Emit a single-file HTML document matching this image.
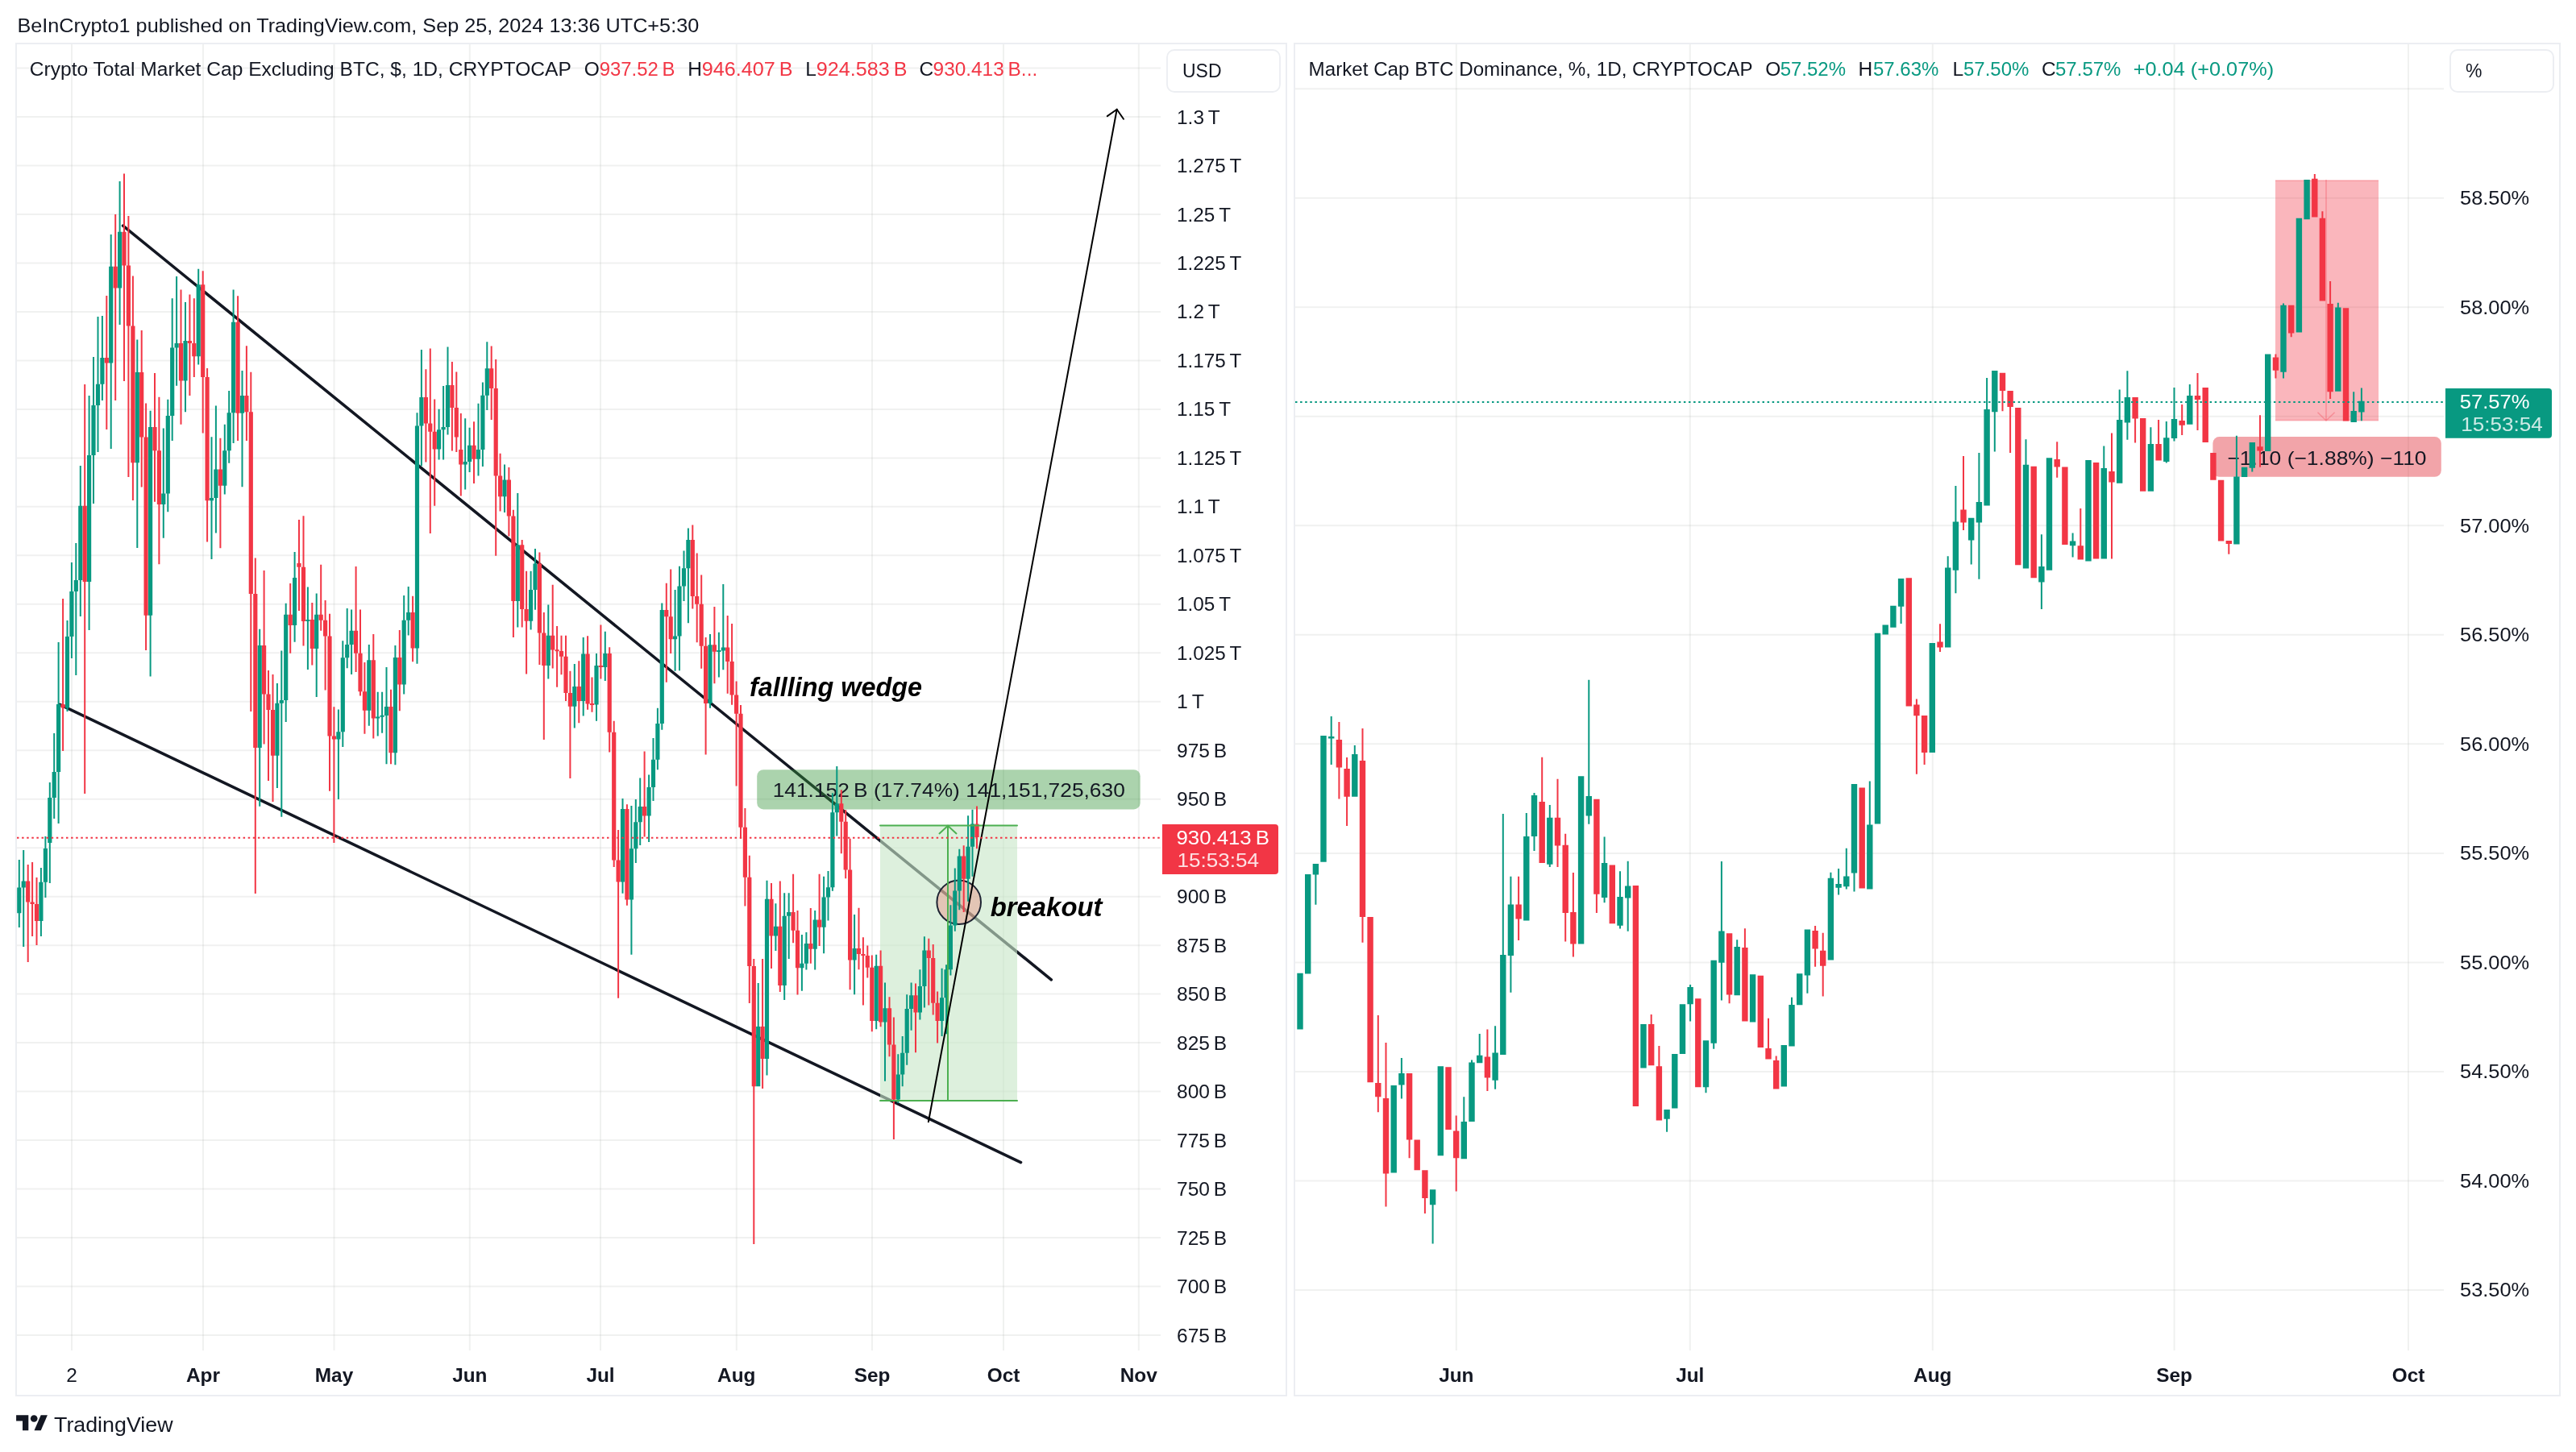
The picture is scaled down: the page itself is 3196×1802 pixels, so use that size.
<!DOCTYPE html><html><head><meta charset="utf-8"><style>html,body{margin:0;padding:0;background:#fff;width:3196px;height:1802px;overflow:hidden}svg{display:block;will-change:transform}text{font-family:"Liberation Sans", sans-serif}</style></head><body>
<svg width="3196" height="1802" viewBox="0 0 3196 1802">
<rect x="0" y="0" width="3196" height="1802" fill="#ffffff"/>
<text x="21.4" y="40.0" font-size="24.5" fill="#131722" textLength="845.8" lengthAdjust="spacingAndGlyphs">BeInCrypto1 published on TradingView.com, Sep 25, 2024 13:36 UTC+5:30</text>
<g stroke="rgb(178,184,182)" stroke-opacity="0.2" stroke-width="2" fill="none">
<line x1="89" y1="55" x2="89" y2="1676"/>
<line x1="252" y1="55" x2="252" y2="1676"/>
<line x1="414.5" y1="55" x2="414.5" y2="1676"/>
<line x1="582.8" y1="55" x2="582.8" y2="1676"/>
<line x1="745" y1="55" x2="745" y2="1676"/>
<line x1="913.8" y1="55" x2="913.8" y2="1676"/>
<line x1="1082" y1="55" x2="1082" y2="1676"/>
<line x1="1245" y1="55" x2="1245" y2="1676"/>
<line x1="1412.8" y1="55" x2="1412.8" y2="1676"/>
<line x1="21" y1="84.5" x2="1440" y2="84.5"/>
<line x1="21" y1="145.0" x2="1440" y2="145.0"/>
<line x1="21" y1="205.5" x2="1440" y2="205.5"/>
<line x1="21" y1="266.0" x2="1440" y2="266.0"/>
<line x1="21" y1="326.4" x2="1440" y2="326.4"/>
<line x1="21" y1="386.9" x2="1440" y2="386.9"/>
<line x1="21" y1="447.4" x2="1440" y2="447.4"/>
<line x1="21" y1="507.9" x2="1440" y2="507.9"/>
<line x1="21" y1="568.4" x2="1440" y2="568.4"/>
<line x1="21" y1="628.8" x2="1440" y2="628.8"/>
<line x1="21" y1="689.3" x2="1440" y2="689.3"/>
<line x1="21" y1="749.8" x2="1440" y2="749.8"/>
<line x1="21" y1="810.3" x2="1440" y2="810.3"/>
<line x1="21" y1="870.8" x2="1440" y2="870.8"/>
<line x1="21" y1="931.2" x2="1440" y2="931.2"/>
<line x1="21" y1="991.7" x2="1440" y2="991.7"/>
<line x1="21" y1="1052.2" x2="1440" y2="1052.2"/>
<line x1="21" y1="1112.7" x2="1440" y2="1112.7"/>
<line x1="21" y1="1173.2" x2="1440" y2="1173.2"/>
<line x1="21" y1="1233.6" x2="1440" y2="1233.6"/>
<line x1="21" y1="1294.1" x2="1440" y2="1294.1"/>
<line x1="21" y1="1354.6" x2="1440" y2="1354.6"/>
<line x1="21" y1="1415.1" x2="1440" y2="1415.1"/>
<line x1="21" y1="1475.6" x2="1440" y2="1475.6"/>
<line x1="21" y1="1536.0" x2="1440" y2="1536.0"/>
<line x1="21" y1="1596.5" x2="1440" y2="1596.5"/>
<line x1="21" y1="1657.0" x2="1440" y2="1657.0"/>
<line x1="1806.8" y1="55" x2="1806.8" y2="1676"/>
<line x1="2096.8" y1="55" x2="2096.8" y2="1676"/>
<line x1="2397.8" y1="55" x2="2397.8" y2="1676"/>
<line x1="2697.6" y1="55" x2="2697.6" y2="1676"/>
<line x1="2988" y1="55" x2="2988" y2="1676"/>
<line x1="1607" y1="110.3" x2="3032" y2="110.3"/>
<line x1="1607" y1="245.8" x2="3032" y2="245.8"/>
<line x1="1607" y1="381.3" x2="3032" y2="381.3"/>
<line x1="1607" y1="516.8" x2="3032" y2="516.8"/>
<line x1="1607" y1="652.3" x2="3032" y2="652.3"/>
<line x1="1607" y1="787.8" x2="3032" y2="787.8"/>
<line x1="1607" y1="923.3" x2="3032" y2="923.3"/>
<line x1="1607" y1="1058.9" x2="3032" y2="1058.9"/>
<line x1="1607" y1="1194.4" x2="3032" y2="1194.4"/>
<line x1="1607" y1="1329.9" x2="3032" y2="1329.9"/>
<line x1="1607" y1="1465.4" x2="3032" y2="1465.4"/>
<line x1="1607" y1="1600.9" x2="3032" y2="1600.9"/>
</g>
<g stroke="#131722" stroke-width="3.6" stroke-linecap="round" fill="none">
<line x1="152.6" y1="280.2" x2="1304.3" y2="1215.8"/>
<line x1="74.2" y1="874.4" x2="1266.5" y2="1442.6"/>
</g>
<rect x="1092" y="1024.6" width="170" height="341.3" fill="rgb(200,230,200)" fill-opacity="0.62"/>
<rect x="939.2" y="955.2" width="475.5" height="49.2" rx="8" ry="8" fill="rgb(56,150,60)" fill-opacity="0.42"/>
<circle cx="1189.7" cy="1119.7" r="27.3" fill="rgb(242,100,90)" fill-opacity="0.3" stroke="#1e2433" stroke-width="2"/>
<rect x="2823" y="224" width="128" height="297.6" fill="rgb(242,54,69)" fill-opacity="0.36"/>
<g stroke="rgb(242,54,69)" stroke-opacity="0.3" stroke-width="1.6" fill="none"><line x1="2823" y1="224" x2="2951" y2="224"/><line x1="2823" y1="521.6" x2="2951" y2="521.6"/><line x1="2886" y1="223" x2="2886" y2="521.6"/><polyline points="2875.5,511.7 2886,522 2896.6,511.7"/></g>
<rect x="2745.4" y="542.1" width="283.4" height="49.7" rx="8" ry="8" fill="rgb(228,62,72)" fill-opacity="0.47"/>
<text x="958.7" y="989.0" font-size="24.5" fill="#131722" textLength="437.1" lengthAdjust="spacingAndGlyphs">141.152 B (17.74%) 141,151,725,630</text>
<text x="2763.4" y="576.5" font-size="24.5" fill="#131722" textLength="247.2" lengthAdjust="spacingAndGlyphs">−1.10 (−1.88%) −110</text>
<path fill="#089981" d="M22.8 1067.0h2V1151.0h-2ZM21.2 1101.6h5.2V1133.3h-5.2ZM28.2 1055.0h2V1175.0h-2ZM26.6 1093.4h5.2V1101.6h-5.2ZM49.9 1077.0h2V1162.0h-2ZM48.3 1094.8h5.2V1143.0h-5.2ZM55.4 1038.0h2V1114.0h-2ZM53.8 1053.0h5.2V1094.8h-5.2ZM60.8 971.0h2V1096.0h-2ZM59.2 990.0h5.2V1046.0h-5.2ZM66.2 910.0h2V1016.0h-2ZM64.6 958.0h5.2V990.0h-5.2ZM71.6 797.0h2V1022.0h-2ZM70.0 874.0h5.2V958.0h-5.2ZM82.5 770.0h2V883.0h-2ZM80.9 790.0h5.2V878.5h-5.2ZM87.9 698.0h2V817.0h-2ZM86.3 734.0h5.2V790.0h-5.2ZM93.3 674.0h2V838.0h-2ZM91.7 720.0h5.2V734.0h-5.2ZM98.8 578.0h2V765.0h-2ZM97.2 627.7h5.2V720.0h-5.2ZM109.6 491.0h2V782.0h-2ZM108.0 565.0h5.2V722.0h-5.2ZM115.0 443.0h2V625.0h-2ZM113.4 503.0h5.2V565.0h-5.2ZM120.5 393.0h2V561.0h-2ZM118.9 476.7h5.2V503.0h-5.2ZM125.9 392.0h2V497.0h-2ZM124.3 443.9h5.2V476.7h-5.2ZM136.7 291.0h2V557.0h-2ZM135.1 330.8h5.2V450.4h-5.2ZM147.6 225.0h2V403.0h-2ZM146.0 287.7h5.2V357.4h-5.2ZM169.3 421.6h2V680.0h-2ZM167.7 461.9h5.2V574.3h-5.2ZM185.6 509.7h2V839.6h-2ZM184.0 529.9h5.2V763.8h-5.2ZM201.8 531.4h2V667.8h-2ZM200.2 612.6h5.2V626.0h-5.2ZM207.3 495.8h2V635.2h-2ZM205.7 516.0h5.2V612.6h-5.2ZM212.7 370.3h2V547.0h-2ZM211.1 431.6h5.2V516.0h-5.2ZM218.1 343.0h2V478.7h-2ZM216.5 426.0h5.2V431.6h-5.2ZM229.0 375.0h2V511.3h-2ZM227.4 423.0h5.2V472.5h-5.2ZM245.2 333.7h2V452.4h-2ZM243.6 353.2h5.2V442.2h-5.2ZM261.5 542.3h2V694.1h-2ZM259.9 618.0h5.2V621.3h-5.2ZM266.9 503.5h2V661.6h-2ZM265.3 582.6h5.2V618.0h-5.2ZM277.8 526.8h2V613.5h-2ZM276.2 559.3h5.2V602.7h-5.2ZM283.2 485.0h2V574.8h-2ZM281.6 512.2h5.2V559.3h-5.2ZM288.6 359.4h2V550.0h-2ZM287.0 399.7h5.2V512.2h-5.2ZM299.5 460.0h2V604.2h-2ZM297.9 491.0h5.2V512.8h-5.2ZM321.2 780.7h2V1000.7h-2ZM319.6 801.0h5.2V928.0h-5.2ZM342.9 848.0h2V978.0h-2ZM341.3 872.7h5.2V937.8h-5.2ZM348.3 807.6h2V1013.7h-2ZM346.7 869.0h5.2V872.7h-5.2ZM353.7 748.7h2V896.0h-2ZM352.1 762.7h5.2V869.0h-5.2ZM364.6 685.0h2V796.8h-2ZM363.0 717.0h5.2V776.0h-5.2ZM380.9 728.6h2V831.0h-2ZM379.3 769.0h5.2V771.0h-5.2ZM391.7 736.4h2V865.0h-2ZM390.1 762.7h5.2V805.0h-5.2ZM418.9 880.4h2V992.0h-2ZM417.3 908.3h5.2V917.6h-5.2ZM424.3 795.2h2V927.0h-2ZM422.7 816.3h5.2V908.3h-5.2ZM429.7 755.0h2V829.3h-2ZM428.1 800.0h5.2V816.3h-5.2ZM435.1 756.5h2V837.0h-2ZM433.5 782.8h5.2V800.0h-5.2ZM456.8 800.0h2V900.7h-2ZM455.2 819.2h5.2V881.8h-5.2ZM467.7 858.7h2V913.6h-2ZM466.1 889.5h5.2V891.5h-5.2ZM473.1 858.7h2V909.8h-2ZM471.5 887.8h5.2V889.8h-5.2ZM478.5 828.0h2V948.3h-2ZM476.9 877.0h5.2V888.0h-5.2ZM489.4 801.0h2V949.3h-2ZM487.8 816.0h5.2V934.3h-5.2ZM500.2 738.9h2V861.6h-2ZM498.6 769.7h5.2V849.5h-5.2ZM505.7 728.0h2V788.4h-2ZM504.1 760.0h5.2V769.7h-5.2ZM516.5 512.2h2V823.7h-2ZM514.9 528.6h5.2V804.4h-5.2ZM521.9 434.0h2V578.2h-2ZM520.3 493.0h5.2V528.6h-5.2ZM543.6 507.8h2V570.4h-2ZM542.0 533.2h5.2V557.4h-5.2ZM549.1 479.0h2V570.4h-2ZM547.5 530.0h5.2V533.2h-5.2ZM554.5 430.4h2V539.5h-2ZM552.9 478.0h5.2V530.0h-5.2ZM576.2 519.3h2V607.6h-2ZM574.6 573.0h5.2V576.6h-5.2ZM581.6 530.8h2V586.0h-2ZM580.0 552.8h5.2V573.0h-5.2ZM592.5 500.7h2V590.6h-2ZM590.9 558.0h5.2V569.8h-5.2ZM597.9 474.4h2V579.0h-2ZM596.3 490.8h5.2V558.0h-5.2ZM603.3 424.2h2V509.0h-2ZM601.7 457.3h5.2V490.8h-5.2ZM625.0 576.6h2V636.0h-2ZM623.4 595.6h5.2V616.3h-5.2ZM641.3 612.0h2V778.5h-2ZM639.7 676.2h5.2V746.0h-5.2ZM657.6 708.7h2V781.6h-2ZM656.0 732.0h5.2V770.7h-5.2ZM663.0 680.9h2V756.8h-2ZM661.4 699.4h5.2V732.0h-5.2ZM679.3 750.6h2V842.6h-2ZM677.7 788.7h5.2V825.9h-5.2ZM711.8 824.0h2V903.4h-2ZM710.2 851.9h5.2V876.7h-5.2ZM722.7 790.9h2V888.5h-2ZM721.1 811.6h5.2V869.9h-5.2ZM739.0 811.0h2V894.7h-2ZM737.4 825.9h5.2V874.5h-5.2ZM749.8 783.7h2V845.0h-2ZM748.2 811.0h5.2V828.0h-5.2ZM771.5 991.0h2V1108.7h-2ZM769.9 1004.0h5.2V1094.6h-5.2ZM782.4 1000.0h2V1184.7h-2ZM780.8 1053.3h5.2V1116.6h-5.2ZM787.8 992.0h2V1071.0h-2ZM786.2 1020.2h5.2V1053.3h-5.2ZM793.2 965.5h2V1048.9h-2ZM791.6 1001.0h5.2V1020.2h-5.2ZM804.1 961.4h2V1045.0h-2ZM802.5 976.9h5.2V1012.5h-5.2ZM809.5 915.9h2V994.0h-2ZM807.9 942.8h5.2V976.9h-5.2ZM814.9 878.7h2V955.2h-2ZM813.3 897.9h5.2V942.8h-5.2ZM820.3 748.5h2V905.7h-2ZM818.7 756.9h5.2V897.9h-5.2ZM836.6 732.1h2V832.8h-2ZM835.0 789.4h5.2V793.2h-5.2ZM842.0 702.7h2V832.2h-2ZM840.4 727.5h5.2V789.4h-5.2ZM847.5 683.5h2V746.0h-2ZM845.9 705.2h5.2V727.5h-5.2ZM852.9 655.6h2V773.3h-2ZM851.3 670.1h5.2V705.2h-5.2ZM880.0 787.0h2V878.7h-2ZM878.4 800.3h5.2V873.1h-5.2ZM890.9 784.8h2V840.6h-2ZM889.3 807.0h5.2V809.0h-5.2ZM896.3 725.0h2V831.3h-2ZM894.7 803.4h5.2V807.4h-5.2ZM939.7 1220.0h2V1348.3h-2ZM938.1 1274.0h5.2V1348.3h-5.2ZM950.5 1092.8h2V1334.6h-2ZM948.9 1115.7h5.2V1314.0h-5.2ZM961.4 1121.3h2V1180.0h-2ZM959.8 1149.8h5.2V1161.6h-5.2ZM972.2 1108.3h2V1241.0h-2ZM970.6 1136.8h5.2V1223.0h-5.2ZM977.7 1108.3h2V1190.0h-2ZM976.1 1132.0h5.2V1136.8h-5.2ZM993.9 1160.0h2V1229.8h-2ZM992.3 1195.7h5.2V1201.2h-5.2ZM999.4 1157.0h2V1203.4h-2ZM997.8 1170.9h5.2V1195.7h-5.2ZM1010.2 1130.0h2V1203.4h-2ZM1008.6 1141.4h5.2V1177.7h-5.2ZM1021.1 1087.8h2V1183.3h-2ZM1019.5 1113.5h5.2V1150.7h-5.2ZM1026.5 1081.0h2V1142.4h-2ZM1024.9 1101.2h5.2V1113.5h-5.2ZM1031.9 984.3h2V1105.8h-2ZM1030.3 1008.2h5.2V1101.2h-5.2ZM1037.3 950.9h2V1037.6h-2ZM1035.7 997.3h5.2V1008.2h-5.2ZM1059.1 1135.0h2V1234.3h-2ZM1057.5 1177.0h5.2V1191.4h-5.2ZM1086.2 1184.8h2V1277.2h-2ZM1084.6 1198.8h5.2V1266.9h-5.2ZM1097.0 1219.5h2V1341.8h-2ZM1095.4 1251.2h5.2V1268.4h-5.2ZM1113.3 1308.3h2V1369.0h-2ZM1111.7 1333.5h5.2V1364.6h-5.2ZM1118.7 1286.1h2V1348.3h-2ZM1117.1 1306.8h5.2V1333.5h-5.2ZM1124.2 1234.3h2V1321.7h-2ZM1122.6 1252.0h5.2V1306.8h-5.2ZM1129.6 1219.5h2V1278.7h-2ZM1128.0 1235.2h5.2V1252.0h-5.2ZM1140.4 1203.2h2V1265.4h-2ZM1138.8 1224.0h5.2V1256.5h-5.2ZM1145.9 1162.3h2V1250.6h-2ZM1144.3 1179.5h5.2V1224.0h-5.2ZM1167.6 1201.7h2V1286.1h-2ZM1166.0 1238.2h5.2V1266.9h-5.2ZM1173.0 1197.3h2V1283.2h-2ZM1171.4 1203.2h5.2V1238.2h-5.2ZM1178.4 1123.3h2V1210.6h-2ZM1176.8 1148.4h5.2V1203.2h-5.2ZM1183.8 1077.4h2V1155.8h-2ZM1182.2 1105.5h5.2V1148.4h-5.2ZM1189.3 1053.7h2V1129.2h-2ZM1187.7 1062.5h5.2V1105.5h-5.2ZM1200.1 1012.2h2V1118.8h-2ZM1198.5 1050.7h5.2V1090.7h-5.2ZM1205.5 1004.8h2V1087.7h-2ZM1203.9 1022.6h5.2V1050.7h-5.2ZM1609.3 1207.7h7.4V1277.4h-7.4ZM1619.0 1085.0h7.4V1208.6h-7.4ZM1631.4 1072.0h2V1122.7h-2ZM1628.7 1072.0h7.4V1085.6h-7.4ZM1638.3 913.0h7.4V1069.7h-7.4ZM1650.7 889.0h2V949.0h-2ZM1648.0 914.0h7.4V916.5h-7.4ZM1679.8 925.0h2V988.7h-2ZM1677.1 936.0h7.4V988.7h-7.4ZM1725.5 1347.0h7.4V1455.4h-7.4ZM1737.9 1313.0h2V1363.5h-2ZM1735.2 1332.0h7.4V1346.4h-7.4ZM1776.6 1476.3h2V1543.5h-2ZM1773.9 1476.3h7.4V1495.3h-7.4ZM1783.6 1323.3h7.4V1434.2h-7.4ZM1815.3 1361.3h2V1438.3h-2ZM1812.6 1392.0h7.4V1438.3h-7.4ZM1825.0 1315.4h2V1392.0h-2ZM1822.3 1318.6h7.4V1392.0h-7.4ZM1834.7 1283.1h2V1319.2h-2ZM1832.0 1309.7h7.4V1319.2h-7.4ZM1854.1 1273.3h2V1351.8h-2ZM1851.4 1306.5h7.4V1340.7h-7.4ZM1863.8 1010.0h2V1309.0h-2ZM1861.1 1184.9h7.4V1309.0h-7.4ZM1873.4 1087.7h2V1231.8h-2ZM1870.7 1122.5h7.4V1185.9h-7.4ZM1892.8 1009.1h2V1142.5h-2ZM1890.1 1038.0h7.4V1142.5h-7.4ZM1902.5 984.0h2V1056.0h-2ZM1899.8 987.0h7.4V1038.0h-7.4ZM1921.8 999.0h2V1076.0h-2ZM1919.1 1014.8h7.4V1072.8h-7.4ZM1957.9 963.2h7.4V1171.6h-7.4ZM1970.3 843.8h2V1022.7h-2ZM1967.6 987.9h7.4V1012.6h-7.4ZM1989.6 1038.6h2V1120.3h-2ZM1986.9 1070.9h7.4V1114.0h-7.4ZM2009.0 1081.3h2V1152.6h-2ZM2006.3 1113.0h7.4V1148.8h-7.4ZM2018.7 1068.7h2V1155.8h-2ZM2016.0 1099.4h7.4V1114.6h-7.4ZM2035.3 1271.0h7.4V1325.5h-7.4ZM2067.1 1377.0h2V1404.7h-2ZM2064.4 1377.0h7.4V1388.8h-7.4ZM2074.1 1308.0h7.4V1375.5h-7.4ZM2083.8 1246.3h7.4V1308.0h-7.4ZM2096.1 1222.0h2V1267.5h-2ZM2093.4 1225.0h7.4V1246.3h-7.4ZM2115.5 1291.3h2V1356.2h-2ZM2112.8 1291.3h7.4V1349.2h-7.4ZM2125.2 1191.8h2V1301.7h-2ZM2122.5 1191.8h7.4V1294.8h-7.4ZM2134.9 1069.0h2V1241.5h-2ZM2132.2 1155.4h7.4V1194.7h-7.4ZM2154.2 1166.2h2V1235.2h-2ZM2151.5 1175.0h7.4V1235.2h-7.4ZM2170.9 1209.2h7.4V1268.5h-7.4ZM2209.6 1297.0h7.4V1348.6h-7.4ZM2222.0 1237.7h2V1298.6h-2ZM2219.3 1247.0h7.4V1298.6h-7.4ZM2229.0 1208.3h7.4V1247.2h-7.4ZM2241.4 1153.5h2V1232.7h-2ZM2238.7 1153.5h7.4V1210.5h-7.4ZM2270.4 1082.8h2V1191.5h-2ZM2267.7 1089.8h7.4V1191.5h-7.4ZM2280.1 1078.0h2V1110.6h-2ZM2277.4 1097.0h7.4V1101.8h-7.4ZM2289.8 1052.7h2V1103.4h-2ZM2287.1 1087.5h7.4V1100.2h-7.4ZM2299.5 972.9h2V1106.5h-2ZM2296.8 972.9h7.4V1083.4h-7.4ZM2318.8 969.4h2V1103.4h-2ZM2316.1 1023.5h7.4V1103.4h-7.4ZM2325.8 785.7h7.4V1022.6h-7.4ZM2335.5 775.5h7.4V787.6h-7.4ZM2345.2 751.8h7.4V778.7h-7.4ZM2357.6 717.9h2V774.0h-2ZM2354.9 717.9h7.4V752.7h-7.4ZM2393.6 798.0h7.4V934.0h-7.4ZM2415.7 690.2h2V803.6h-2ZM2413.0 704.5h7.4V803.6h-7.4ZM2425.4 603.1h2V736.2h-2ZM2422.7 647.5h7.4V707.7h-7.4ZM2444.7 642.7h2V700.4h-2ZM2442.0 642.7h7.4V670.6h-7.4ZM2454.4 562.0h2V718.7h-2ZM2451.7 623.0h7.4V648.4h-7.4ZM2464.1 469.1h2V627.5h-2ZM2461.4 508.1h7.4V627.5h-7.4ZM2473.8 460.0h2V560.4h-2ZM2471.1 460.0h7.4V511.3h-7.4ZM2512.5 545.2h2V705.4h-2ZM2509.8 576.8h7.4V705.4h-7.4ZM2531.9 663.3h2V756.1h-2ZM2529.2 702.9h7.4V722.5h-7.4ZM2538.8 568.3h7.4V707.7h-7.4ZM2570.6 661.4h2V691.6h-2ZM2567.9 671.4h7.4V677.2h-7.4ZM2587.3 571.1h7.4V696.5h-7.4ZM2609.3 553.4h2V693.6h-2ZM2606.6 581.1h7.4V693.6h-7.4ZM2628.7 483.4h2V599.7h-2ZM2626.0 521.0h7.4V599.7h-7.4ZM2638.4 460.2h2V545.7h-2ZM2635.7 493.0h7.4V524.5h-7.4ZM2667.4 530.2h2V609.7h-2ZM2664.7 550.9h7.4V609.7h-7.4ZM2686.8 522.9h2V574.6h-2ZM2684.1 543.2h7.4V573.0h-7.4ZM2696.5 480.9h2V547.6h-2ZM2693.8 520.0h7.4V544.1h-7.4ZM2715.8 477.0h2V526.8h-2ZM2713.1 491.1h7.4V526.8h-7.4ZM2773.9 540.7h2V675.6h-2ZM2771.2 591.4h7.4V675.6h-7.4ZM2780.9 579.8h7.4V592.0h-7.4ZM2793.3 549.0h2V585.6h-2ZM2790.6 549.0h7.4V580.8h-7.4ZM2810.0 439.4h7.4V560.0h-7.4ZM2832.0 376.4h2V469.5h-2ZM2829.3 378.7h7.4V461.7h-7.4ZM2848.7 270.8h7.4V412.6h-7.4ZM2858.4 223.1h7.4V272.3h-7.4ZM2899.8 375.8h2V485.7h-2ZM2897.1 381.6h7.4V485.7h-7.4ZM2919.2 486.3h2V523.9h-2ZM2916.5 510.0h7.4V523.9h-7.4ZM2928.9 481.6h2V522.2h-2ZM2926.2 497.8h7.4V511.4h-7.4Z"/><path fill="#f23645" d="M33.7 1073.0h2V1194.0h-2ZM32.1 1093.4h5.2V1119.6h-5.2ZM39.1 1070.0h2V1162.0h-2ZM37.5 1119.6h5.2V1122.0h-5.2ZM44.5 1089.0h2V1173.0h-2ZM42.9 1122.0h5.2V1143.0h-5.2ZM77.1 743.0h2V932.0h-2ZM75.5 874.0h5.2V878.5h-5.2ZM104.2 477.0h2V985.0h-2ZM102.6 627.7h5.2V722.0h-5.2ZM131.3 367.0h2V533.0h-2ZM129.7 443.9h5.2V450.4h-5.2ZM142.2 266.0h2V497.0h-2ZM140.6 330.8h5.2V357.4h-5.2ZM153.0 215.5h2V473.0h-2ZM151.4 287.7h5.2V329.5h-5.2ZM158.4 268.0h2V592.0h-2ZM156.8 329.5h5.2V404.5h-5.2ZM163.9 342.5h2V621.0h-2ZM162.3 404.5h5.2V574.3h-5.2ZM174.7 410.0h2V604.4h-2ZM173.1 461.9h5.2V542.4h-5.2ZM180.1 500.6h2V807.0h-2ZM178.5 542.4h5.2V763.8h-5.2ZM191.0 463.0h2V622.8h-2ZM189.4 529.9h5.2V559.3h-5.2ZM196.4 492.7h2V700.3h-2ZM194.8 559.3h5.2V626.0h-5.2ZM223.5 359.4h2V526.8h-2ZM221.9 426.0h5.2V472.5h-5.2ZM234.4 365.6h2V491.0h-2ZM232.8 423.0h5.2V426.0h-5.2ZM239.8 370.3h2V468.0h-2ZM238.2 426.0h5.2V442.2h-5.2ZM250.7 336.2h2V537.6h-2ZM249.1 353.2h5.2V468.0h-5.2ZM256.1 457.0h2V672.4h-2ZM254.5 468.0h5.2V621.3h-5.2ZM272.4 543.8h2V680.2h-2ZM270.8 582.6h5.2V602.7h-5.2ZM294.1 367.2h2V547.0h-2ZM292.5 399.7h5.2V512.8h-5.2ZM304.9 429.2h2V547.0h-2ZM303.3 491.0h5.2V511.3h-5.2ZM310.3 461.7h2V883.0h-2ZM308.7 511.3h5.2V737.0h-5.2ZM315.8 692.4h2V1109.0h-2ZM314.2 737.0h5.2V928.0h-5.2ZM326.6 708.0h2V923.5h-2ZM325.0 801.0h5.2V861.5h-5.2ZM332.0 832.0h2V969.0h-2ZM330.4 861.5h5.2V881.0h-5.2ZM337.5 837.0h2V995.0h-2ZM335.9 881.0h5.2V937.8h-5.2ZM359.2 724.0h2V810.7h-2ZM357.6 762.7h5.2V776.0h-5.2ZM370.0 645.0h2V758.0h-2ZM368.4 699.0h5.2V703.8h-5.2ZM375.5 640.3h2V801.4h-2ZM373.9 703.8h5.2V771.0h-5.2ZM386.3 748.0h2V825.6h-2ZM384.7 769.0h5.2V805.0h-5.2ZM397.2 700.7h2V782.8h-2ZM395.6 762.7h5.2V769.8h-5.2ZM402.6 745.0h2V856.6h-2ZM401.0 769.8h5.2V789.6h-5.2ZM408.0 761.8h2V981.8h-2ZM406.4 789.6h5.2V913.6h-5.2ZM413.4 877.3h2V1046.0h-2ZM411.8 913.6h5.2V917.6h-5.2ZM440.6 702.9h2V834.0h-2ZM439.0 782.8h5.2V810.7h-5.2ZM446.0 756.6h2V863.5h-2ZM444.4 810.7h5.2V858.3h-5.2ZM451.4 822.0h2V910.8h-2ZM449.8 858.3h5.2V881.8h-5.2ZM462.3 787.0h2V916.5h-2ZM460.7 819.2h5.2V891.5h-5.2ZM484.0 855.8h2V948.3h-2ZM482.4 877.0h5.2V934.3h-5.2ZM494.8 782.0h2V882.2h-2ZM493.2 816.0h5.2V849.5h-5.2ZM511.1 739.7h2V821.2h-2ZM509.5 760.0h5.2V804.4h-5.2ZM527.4 458.3h2V573.5h-2ZM525.8 493.0h5.2V525.5h-5.2ZM532.8 432.5h2V661.9h-2ZM531.2 525.5h5.2V535.7h-5.2ZM538.2 495.4h2V627.8h-2ZM536.6 535.7h5.2V557.4h-5.2ZM559.9 449.0h2V559.6h-2ZM558.3 478.0h5.2V506.0h-5.2ZM565.3 461.4h2V561.0h-2ZM563.7 506.0h5.2V542.5h-5.2ZM570.8 513.0h2V615.4h-2ZM569.2 558.0h5.2V576.6h-5.2ZM587.0 523.3h2V600.0h-2ZM585.4 552.8h5.2V569.8h-5.2ZM608.7 429.4h2V520.9h-2ZM607.1 457.3h5.2V482.0h-5.2ZM614.2 445.9h2V689.7h-2ZM612.6 482.0h5.2V590.6h-5.2ZM619.6 562.7h2V634.4h-2ZM618.0 590.6h5.2V616.3h-5.2ZM630.4 580.0h2V665.4h-2ZM628.8 595.6h5.2V640.6h-5.2ZM635.9 632.8h2V790.9h-2ZM634.3 640.6h5.2V746.0h-5.2ZM646.7 670.0h2V778.5h-2ZM645.1 676.2h5.2V755.9h-5.2ZM652.1 708.7h2V836.4h-2ZM650.5 755.9h5.2V770.7h-5.2ZM668.4 685.5h2V825.0h-2ZM666.8 699.4h5.2V785.6h-5.2ZM673.8 759.9h2V918.0h-2ZM672.2 785.6h5.2V825.9h-5.2ZM684.7 725.8h2V829.6h-2ZM683.1 788.7h5.2V806.4h-5.2ZM690.1 777.0h2V852.8h-2ZM688.5 806.2h5.2V808.2h-5.2ZM695.5 788.7h2V837.3h-2ZM693.9 808.0h5.2V814.7h-5.2ZM701.0 788.7h2V869.9h-2ZM699.4 814.7h5.2V860.0h-5.2ZM706.4 832.7h2V966.0h-2ZM704.8 860.0h5.2V876.7h-5.2ZM717.3 820.3h2V897.2h-2ZM715.7 851.9h5.2V869.9h-5.2ZM728.1 789.3h2V880.7h-2ZM726.5 811.6h5.2V873.6h-5.2ZM733.5 840.4h2V883.8h-2ZM731.9 873.0h5.2V875.0h-5.2ZM744.4 775.4h2V842.6h-2ZM742.8 825.9h5.2V828.0h-5.2ZM755.2 803.3h2V933.5h-2ZM753.6 811.0h5.2V908.8h-5.2ZM760.7 894.8h2V1076.0h-2ZM759.1 908.8h5.2V1067.6h-5.2ZM766.1 1030.0h2V1238.8h-2ZM764.5 1067.6h5.2V1094.6h-5.2ZM776.9 998.2h2V1123.8h-2ZM775.3 1004.0h5.2V1116.6h-5.2ZM798.6 932.6h2V1038.4h-2ZM797.0 1001.0h5.2V1012.5h-5.2ZM825.8 723.8h2V846.8h-2ZM824.2 756.9h5.2V765.3h-5.2ZM831.2 706.4h2V811.1h-2ZM829.6 765.3h5.2V793.2h-5.2ZM858.3 651.5h2V755.4h-2ZM856.7 670.1h5.2V739.9h-5.2ZM863.7 686.6h2V797.2h-2ZM862.1 739.9h5.2V749.8h-5.2ZM869.2 713.5h2V829.7h-2ZM867.6 749.8h5.2V801.8h-5.2ZM874.6 791.0h2V936.6h-2ZM873.0 801.8h5.2V873.1h-5.2ZM885.4 752.9h2V848.3h-2ZM883.8 800.3h5.2V808.7h-5.2ZM901.7 764.0h2V860.7h-2ZM900.1 803.4h5.2V821.0h-5.2ZM907.1 774.0h2V874.7h-2ZM905.5 821.0h5.2V862.5h-5.2ZM912.6 845.5h2V975.6h-2ZM911.0 862.5h5.2V885.8h-5.2ZM918.0 875.0h2V1040.7h-2ZM916.4 885.8h5.2V1026.8h-5.2ZM923.4 1003.0h2V1124.4h-2ZM921.8 1026.8h5.2V1088.8h-5.2ZM928.8 1061.8h2V1245.0h-2ZM927.2 1088.8h5.2V1199.0h-5.2ZM934.3 1190.0h2V1544.0h-2ZM932.7 1199.0h5.2V1348.3h-5.2ZM945.1 1190.0h2V1351.0h-2ZM943.5 1274.0h5.2V1314.0h-5.2ZM956.0 1095.9h2V1202.0h-2ZM954.4 1115.7h5.2V1161.6h-5.2ZM966.8 1093.4h2V1231.0h-2ZM965.2 1149.8h5.2V1223.0h-5.2ZM983.1 1084.7h2V1170.3h-2ZM981.5 1132.0h5.2V1154.8h-5.2ZM988.5 1130.0h2V1234.4h-2ZM986.9 1154.8h5.2V1201.2h-5.2ZM1004.8 1126.9h2V1195.7h-2ZM1003.2 1170.9h5.2V1177.7h-5.2ZM1015.6 1084.7h2V1174.0h-2ZM1014.0 1141.4h5.2V1150.7h-5.2ZM1042.8 980.3h2V1059.3h-2ZM1041.2 997.3h5.2V1019.7h-5.2ZM1048.2 1005.0h2V1090.3h-2ZM1046.6 1019.7h5.2V1079.5h-5.2ZM1053.6 1040.7h2V1228.2h-2ZM1052.0 1079.5h5.2V1191.4h-5.2ZM1064.5 1126.8h2V1203.2h-2ZM1062.9 1177.0h5.2V1184.0h-5.2ZM1069.9 1163.2h2V1247.6h-2ZM1068.3 1184.0h5.2V1186.0h-5.2ZM1075.3 1173.6h2V1213.6h-2ZM1073.7 1186.0h5.2V1200.8h-5.2ZM1080.8 1185.4h2V1280.2h-2ZM1079.2 1200.8h5.2V1266.9h-5.2ZM1091.6 1179.5h2V1274.3h-2ZM1090.0 1198.8h5.2V1268.4h-5.2ZM1102.5 1237.3h2V1311.3h-2ZM1100.9 1251.2h5.2V1296.5h-5.2ZM1107.9 1262.4h2V1414.0h-2ZM1106.3 1296.5h5.2V1364.6h-5.2ZM1135.0 1220.4h2V1306.3h-2ZM1133.4 1235.2h5.2V1256.5h-5.2ZM1151.3 1164.7h2V1247.6h-2ZM1149.7 1179.5h5.2V1189.0h-5.2ZM1156.7 1172.0h2V1259.5h-2ZM1155.1 1189.0h5.2V1244.7h-5.2ZM1162.1 1230.5h2V1294.4h-2ZM1160.5 1244.7h5.2V1266.9h-5.2ZM1194.7 1049.2h2V1132.1h-2ZM1193.1 1062.5h5.2V1090.7h-5.2ZM1211.0 1000.4h2V1053.2h-2ZM1209.4 1022.6h5.2V1039.1h-5.2ZM1660.4 896.0h2V991.6h-2ZM1657.7 918.0h7.4V952.6h-7.4ZM1670.1 940.0h2V1025.0h-2ZM1667.4 954.0h7.4V988.7h-7.4ZM1689.5 904.0h2V1169.7h-2ZM1686.8 944.0h7.4V1138.0h-7.4ZM1696.4 1138.0h7.4V1343.3h-7.4ZM1708.8 1260.0h2V1380.3h-2ZM1706.1 1343.9h7.4V1361.3h-7.4ZM1718.5 1294.0h2V1497.5h-2ZM1715.8 1363.0h7.4V1456.4h-7.4ZM1747.6 1332.0h2V1437.3h-2ZM1744.9 1332.0h7.4V1414.5h-7.4ZM1754.5 1414.5h7.4V1452.2h-7.4ZM1766.9 1452.2h2V1506.0h-2ZM1764.2 1452.2h7.4V1487.0h-7.4ZM1793.3 1324.3h7.4V1401.9h-7.4ZM1805.7 1384.4h2V1478.5h-2ZM1803.0 1403.5h7.4V1437.3h-7.4ZM1844.4 1277.4h2V1354.0h-2ZM1841.7 1311.6h7.4V1337.6h-7.4ZM1883.1 1087.7h2V1166.9h-2ZM1880.4 1122.5h7.4V1140.6h-7.4ZM1912.2 939.7h2V1070.9h-2ZM1909.5 994.9h7.4V1070.9h-7.4ZM1931.5 966.7h2V1076.0h-2ZM1928.8 1014.8h7.4V1049.6h-7.4ZM1941.2 1034.8h2V1168.4h-2ZM1938.5 1048.7h7.4V1133.0h-7.4ZM1950.9 1083.0h2V1187.4h-2ZM1948.2 1132.0h7.4V1171.6h-7.4ZM1979.9 991.7h2V1133.0h-2ZM1977.2 991.7h7.4V1109.8h-7.4ZM1996.6 1073.4h7.4V1146.3h-7.4ZM2025.7 1099.0h7.4V1373.0h-7.4ZM2047.7 1259.0h2V1322.3h-2ZM2045.0 1271.0h7.4V1322.3h-7.4ZM2057.4 1298.0h2V1390.4h-2ZM2054.7 1323.3h7.4V1390.4h-7.4ZM2103.1 1239.3h7.4V1349.2h-7.4ZM2144.6 1158.2h2V1245.3h-2ZM2141.9 1158.2h7.4V1234.6h-7.4ZM2163.9 1152.2h2V1267.5h-2ZM2161.2 1176.0h7.4V1267.5h-7.4ZM2180.6 1210.8h7.4V1300.1h-7.4ZM2193.0 1263.7h2V1314.4h-2ZM2190.3 1301.0h7.4V1314.4h-7.4ZM2202.7 1310.6h2V1351.5h-2ZM2200.0 1316.0h7.4V1351.5h-7.4ZM2251.1 1149.0h2V1199.7h-2ZM2248.4 1155.0h7.4V1177.6h-7.4ZM2260.7 1157.8h2V1236.4h-2ZM2258.0 1179.8h7.4V1198.8h-7.4ZM2306.5 977.6h7.4V1102.4h-7.4ZM2364.6 717.2h7.4V876.5h-7.4ZM2376.9 867.6h2V960.8h-2ZM2374.2 874.6h7.4V888.2h-7.4ZM2386.6 888.0h2V949.1h-2ZM2383.9 888.0h7.4V933.9h-7.4ZM2406.0 774.2h2V809.0h-2ZM2403.3 796.4h7.4V803.6h-7.4ZM2435.0 566.0h2V658.0h-2ZM2432.3 632.6h7.4V648.4h-7.4ZM2483.5 462.8h2V510.3h-2ZM2480.8 462.8h7.4V485.0h-7.4ZM2493.1 485.0h2V562.0h-2ZM2490.4 485.0h7.4V505.0h-7.4ZM2500.1 505.9h7.4V701.3h-7.4ZM2519.5 578.7h7.4V717.2h-7.4ZM2551.2 548.3h2V592.7h-2ZM2548.5 569.9h7.4V579.4h-7.4ZM2558.2 579.4h7.4V676.0h-7.4ZM2580.3 630.9h2V694.5h-2ZM2577.6 677.2h7.4V694.5h-7.4ZM2596.9 574.0h7.4V693.6h-7.4ZM2619.0 537.4h2V693.6h-2ZM2616.3 585.0h7.4V598.5h-7.4ZM2648.1 493.0h2V549.5h-2ZM2645.4 493.0h7.4V519.4h-7.4ZM2655.0 519.0h7.4V609.7h-7.4ZM2677.1 521.0h2V571.5h-2ZM2674.4 550.9h7.4V571.5h-7.4ZM2706.2 502.1h2V539.9h-2ZM2703.5 522.0h7.4V527.7h-7.4ZM2725.5 463.1h2V534.1h-2ZM2722.8 491.1h7.4V496.0h-7.4ZM2732.5 480.9h7.4V549.0h-7.4ZM2742.2 561.9h7.4V595.8h-7.4ZM2751.9 595.8h7.4V671.4h-7.4ZM2764.3 671.0h2V687.8h-2ZM2761.6 671.0h7.4V674.9h-7.4ZM2803.0 515.2h2V579.8h-2ZM2800.3 554.2h7.4V559.6h-7.4ZM2822.4 439.4h2V469.5h-2ZM2819.7 443.5h7.4V459.7h-7.4ZM2841.7 378.7h2V418.3h-2ZM2839.0 378.7h7.4V413.4h-7.4ZM2870.8 215.9h2V269.4h-2ZM2868.1 221.7h7.4V269.4h-7.4ZM2880.4 262.2h2V373.5h-2ZM2877.7 270.8h7.4V373.5h-7.4ZM2890.1 349.0h2V495.0h-2ZM2887.4 377.0h7.4V486.3h-7.4ZM2906.8 382.2h7.4V522.4h-7.4Z"/>
<g stroke="#4caf50" stroke-width="2" fill="none" stroke-linecap="round">
<line x1="1092" y1="1024.6" x2="1262" y2="1024.6"/>
<line x1="1092" y1="1365.9" x2="1262" y2="1365.9"/>
<line x1="1176" y1="1365.9" x2="1176" y2="1025"/>
<polyline points="1165.5,1034.4 1176,1024.8 1186.5,1034.4"/>
</g>
<g stroke="#000" stroke-width="2" fill="none" stroke-linecap="round"><line x1="1151.9" y1="1392.3" x2="1385.7" y2="135.8"/><polyline points="1373.8,144.1 1385.7,135.8 1394,147.8"/></g>
<line x1="21" y1="1039.8" x2="1442" y2="1039.8" stroke="#f23645" stroke-width="2" stroke-dasharray="2.5 3.6"/>
<line x1="1607" y1="498.9" x2="3034" y2="498.9" stroke="#089981" stroke-width="2" stroke-dasharray="2.5 3.6"/>
<text x="930.0" y="863.5" font-size="32.5" fill="#000" font-weight="bold" font-style="italic" textLength="214.0" lengthAdjust="spacingAndGlyphs">fallling wedge</text>
<text x="1228.7" y="1136.5" font-size="32.5" fill="#000" font-weight="bold" font-style="italic" textLength="138.8" lengthAdjust="spacingAndGlyphs">breakout</text>
<g stroke="#eceef2" stroke-width="2" fill="none">
<rect x="20" y="54" width="1576" height="1678"/>
<rect x="1606" y="54" width="1570" height="1678"/>
</g>
<text x="1460.0" y="153.5" font-size="23" fill="#131722" textLength="53.8" lengthAdjust="spacingAndGlyphs">1.3 T</text>
<text x="1460.0" y="214.0" font-size="23" fill="#131722" textLength="80.3" lengthAdjust="spacingAndGlyphs">1.275 T</text>
<text x="1460.0" y="274.5" font-size="23" fill="#131722" textLength="67.1" lengthAdjust="spacingAndGlyphs">1.25 T</text>
<text x="1460.0" y="334.9" font-size="23" fill="#131722" textLength="80.3" lengthAdjust="spacingAndGlyphs">1.225 T</text>
<text x="1460.0" y="395.4" font-size="23" fill="#131722" textLength="53.8" lengthAdjust="spacingAndGlyphs">1.2 T</text>
<text x="1460.0" y="455.9" font-size="23" fill="#131722" textLength="80.3" lengthAdjust="spacingAndGlyphs">1.175 T</text>
<text x="1460.0" y="516.4" font-size="23" fill="#131722" textLength="67.1" lengthAdjust="spacingAndGlyphs">1.15 T</text>
<text x="1460.0" y="576.9" font-size="23" fill="#131722" textLength="80.3" lengthAdjust="spacingAndGlyphs">1.125 T</text>
<text x="1460.0" y="637.3" font-size="23" fill="#131722" textLength="53.8" lengthAdjust="spacingAndGlyphs">1.1 T</text>
<text x="1460.0" y="697.8" font-size="23" fill="#131722" textLength="80.3" lengthAdjust="spacingAndGlyphs">1.075 T</text>
<text x="1460.0" y="758.3" font-size="23" fill="#131722" textLength="67.1" lengthAdjust="spacingAndGlyphs">1.05 T</text>
<text x="1460.0" y="818.8" font-size="23" fill="#131722" textLength="80.3" lengthAdjust="spacingAndGlyphs">1.025 T</text>
<text x="1460.0" y="879.3" font-size="23" fill="#131722" textLength="34.0" lengthAdjust="spacingAndGlyphs">1 T</text>
<text x="1460.0" y="939.7" font-size="23" fill="#131722" textLength="62.2" lengthAdjust="spacingAndGlyphs">975 B</text>
<text x="1460.0" y="1000.2" font-size="23" fill="#131722" textLength="62.2" lengthAdjust="spacingAndGlyphs">950 B</text>
<text x="1460.0" y="1121.2" font-size="23" fill="#131722" textLength="62.2" lengthAdjust="spacingAndGlyphs">900 B</text>
<text x="1460.0" y="1181.7" font-size="23" fill="#131722" textLength="62.2" lengthAdjust="spacingAndGlyphs">875 B</text>
<text x="1460.0" y="1242.1" font-size="23" fill="#131722" textLength="62.2" lengthAdjust="spacingAndGlyphs">850 B</text>
<text x="1460.0" y="1302.6" font-size="23" fill="#131722" textLength="62.2" lengthAdjust="spacingAndGlyphs">825 B</text>
<text x="1460.0" y="1363.1" font-size="23" fill="#131722" textLength="62.2" lengthAdjust="spacingAndGlyphs">800 B</text>
<text x="1460.0" y="1423.6" font-size="23" fill="#131722" textLength="62.2" lengthAdjust="spacingAndGlyphs">775 B</text>
<text x="1460.0" y="1484.1" font-size="23" fill="#131722" textLength="62.2" lengthAdjust="spacingAndGlyphs">750 B</text>
<text x="1460.0" y="1544.5" font-size="23" fill="#131722" textLength="62.2" lengthAdjust="spacingAndGlyphs">725 B</text>
<text x="1460.0" y="1605.0" font-size="23" fill="#131722" textLength="62.2" lengthAdjust="spacingAndGlyphs">700 B</text>
<text x="1460.0" y="1665.5" font-size="23" fill="#131722" textLength="62.2" lengthAdjust="spacingAndGlyphs">675 B</text>
<path d="M1442 1022.9 H1582 Q1586 1022.9 1586 1026.9 V1081 Q1586 1085 1582 1085 H1442 Z" fill="#f23645"/>
<text x="1459.5" y="1047.6" font-size="23" fill="#fff" textLength="115.5" lengthAdjust="spacingAndGlyphs">930.413 B</text>
<text x="1460.6" y="1076.0" font-size="23" fill="#fff" textLength="101.5" lengthAdjust="spacingAndGlyphs" fill-opacity="0.85">15:53:54</text>
<rect x="1448" y="62" width="140" height="52" rx="9" ry="9" fill="#fff" stroke="#eceef2" stroke-width="1.8"/>
<text x="1467.0" y="95.6" font-size="23" fill="#131722">USD</text>
<text x="89.0" y="1714.5" font-size="23" fill="#131722" text-anchor="middle" textLength="13.6" lengthAdjust="spacingAndGlyphs">2</text>
<text x="252.0" y="1714.5" font-size="23" fill="#131722" font-weight="bold" text-anchor="middle" textLength="42.0" lengthAdjust="spacingAndGlyphs">Apr</text>
<text x="414.5" y="1714.5" font-size="23" fill="#131722" font-weight="bold" text-anchor="middle" textLength="47.4" lengthAdjust="spacingAndGlyphs">May</text>
<text x="582.8" y="1714.5" font-size="23" fill="#131722" font-weight="bold" text-anchor="middle" textLength="43.3" lengthAdjust="spacingAndGlyphs">Jun</text>
<text x="745.0" y="1714.5" font-size="23" fill="#131722" font-weight="bold" text-anchor="middle" textLength="35.2" lengthAdjust="spacingAndGlyphs">Jul</text>
<text x="913.8" y="1714.5" font-size="23" fill="#131722" font-weight="bold" text-anchor="middle" textLength="47.4" lengthAdjust="spacingAndGlyphs">Aug</text>
<text x="1082.0" y="1714.5" font-size="23" fill="#131722" font-weight="bold" text-anchor="middle" textLength="44.7" lengthAdjust="spacingAndGlyphs">Sep</text>
<text x="1245.0" y="1714.5" font-size="23" fill="#131722" font-weight="bold" text-anchor="middle" textLength="40.6" lengthAdjust="spacingAndGlyphs">Oct</text>
<text x="1412.8" y="1714.5" font-size="23" fill="#131722" font-weight="bold" text-anchor="middle" textLength="46.1" lengthAdjust="spacingAndGlyphs">Nov</text>
<text x="1806.8" y="1714.5" font-size="23" fill="#131722" font-weight="bold" text-anchor="middle" textLength="43.3" lengthAdjust="spacingAndGlyphs">Jun</text>
<text x="2096.8" y="1714.5" font-size="23" fill="#131722" font-weight="bold" text-anchor="middle" textLength="35.2" lengthAdjust="spacingAndGlyphs">Jul</text>
<text x="2397.8" y="1714.5" font-size="23" fill="#131722" font-weight="bold" text-anchor="middle" textLength="47.4" lengthAdjust="spacingAndGlyphs">Aug</text>
<text x="2697.6" y="1714.5" font-size="23" fill="#131722" font-weight="bold" text-anchor="middle" textLength="44.7" lengthAdjust="spacingAndGlyphs">Sep</text>
<text x="2988.0" y="1714.5" font-size="23" fill="#131722" font-weight="bold" text-anchor="middle" textLength="40.6" lengthAdjust="spacingAndGlyphs">Oct</text>
<text x="3052.0" y="254.3" font-size="23" fill="#131722" textLength="86.2" lengthAdjust="spacingAndGlyphs">58.50%</text>
<text x="3052.0" y="389.8" font-size="23" fill="#131722" textLength="86.2" lengthAdjust="spacingAndGlyphs">58.00%</text>
<text x="3052.0" y="525.3" font-size="23" fill="#131722" textLength="86.2" lengthAdjust="spacingAndGlyphs">57.50%</text>
<text x="3052.0" y="660.8" font-size="23" fill="#131722" textLength="86.2" lengthAdjust="spacingAndGlyphs">57.00%</text>
<text x="3052.0" y="796.3" font-size="23" fill="#131722" textLength="86.2" lengthAdjust="spacingAndGlyphs">56.50%</text>
<text x="3052.0" y="931.8" font-size="23" fill="#131722" textLength="86.2" lengthAdjust="spacingAndGlyphs">56.00%</text>
<text x="3052.0" y="1067.3" font-size="23" fill="#131722" textLength="86.2" lengthAdjust="spacingAndGlyphs">55.50%</text>
<text x="3052.0" y="1202.8" font-size="23" fill="#131722" textLength="86.2" lengthAdjust="spacingAndGlyphs">55.00%</text>
<text x="3052.0" y="1338.3" font-size="23" fill="#131722" textLength="86.2" lengthAdjust="spacingAndGlyphs">54.50%</text>
<text x="3052.0" y="1473.8" font-size="23" fill="#131722" textLength="86.2" lengthAdjust="spacingAndGlyphs">54.00%</text>
<text x="3052.0" y="1609.3" font-size="23" fill="#131722" textLength="86.2" lengthAdjust="spacingAndGlyphs">53.50%</text>
<path d="M3034 482 H3162 Q3166 482 3166 486 V539.8 Q3166 543.8 3162 543.8 H3034 Z" fill="#089981"/>
<text x="3051.7" y="507.1" font-size="23" fill="#fff" textLength="87.0" lengthAdjust="spacingAndGlyphs">57.57%</text>
<text x="3053.3" y="535.1" font-size="23" fill="#fff" textLength="101.5" lengthAdjust="spacingAndGlyphs" fill-opacity="0.8">15:53:54</text>
<rect x="3040" y="62" width="128" height="52" rx="9" ry="9" fill="#fff" stroke="#eceef2" stroke-width="2"/>
<text x="3059.0" y="95.6" font-size="23" fill="#131722">%</text>
<text x="36.8" y="94.0" font-size="24.5" fill="#131722" textLength="672.0" lengthAdjust="spacingAndGlyphs">Crypto Total Market Cap Excluding BTC, $, 1D, CRYPTOCAP</text>
<text x="724.7" y="94.0" font-size="24.5" fill="#131722">O</text>
<text x="743.7" y="94.0" font-size="24.5" fill="#f23645" textLength="93.8" lengthAdjust="spacingAndGlyphs">937.52 B</text>
<text x="853.3" y="94.0" font-size="24.5" fill="#131722">H</text>
<text x="870.7" y="94.0" font-size="24.5" fill="#f23645" textLength="113.0" lengthAdjust="spacingAndGlyphs">946.407 B</text>
<text x="999.2" y="94.0" font-size="24.5" fill="#131722">L</text>
<text x="1012.8" y="94.0" font-size="24.5" fill="#f23645" textLength="112.7" lengthAdjust="spacingAndGlyphs">924.583 B</text>
<text x="1140.5" y="94.0" font-size="24.5" fill="#131722">C</text>
<text x="1157.6" y="94.0" font-size="24.5" fill="#f23645" textLength="129.6" lengthAdjust="spacingAndGlyphs">930.413 B...</text>
<text x="1623.6" y="94.3" font-size="24.5" fill="#131722" textLength="551.0" lengthAdjust="spacingAndGlyphs">Market Cap BTC Dominance, %, 1D, CRYPTOCAP</text>
<text x="2190.2" y="94.3" font-size="24.5" fill="#131722">O</text>
<text x="2208.7" y="94.3" font-size="24.5" fill="#089981" textLength="81.3" lengthAdjust="spacingAndGlyphs">57.52%</text>
<text x="2305.4" y="94.3" font-size="24.5" fill="#131722">H</text>
<text x="2324.0" y="94.3" font-size="24.5" fill="#089981" textLength="81.4" lengthAdjust="spacingAndGlyphs">57.63%</text>
<text x="2422.6" y="94.3" font-size="24.5" fill="#131722">L</text>
<text x="2436.0" y="94.3" font-size="24.5" fill="#089981" textLength="81.4" lengthAdjust="spacingAndGlyphs">57.50%</text>
<text x="2533.0" y="94.3" font-size="24.5" fill="#131722">C</text>
<text x="2550.0" y="94.3" font-size="24.5" fill="#089981" textLength="81.5" lengthAdjust="spacingAndGlyphs">57.57%</text>
<text x="2646.7" y="94.3" font-size="24.5" fill="#089981" textLength="174.5" lengthAdjust="spacingAndGlyphs">+0.04 (+0.07%)</text>
<g fill="#131722"><path d="M20.1 1756.3 H35.3 V1775.3 H28 V1763.6 H20.1 Z"/><circle cx="42.2" cy="1760.5" r="4.35"/><path d="M50.7 1756.3 H58.9 L50.7 1775.3 H42.5 Z"/></g>
<text x="67.0" y="1777.0" font-size="26" fill="#131722" textLength="147.5" lengthAdjust="spacingAndGlyphs">TradingView</text>
</svg></body></html>
